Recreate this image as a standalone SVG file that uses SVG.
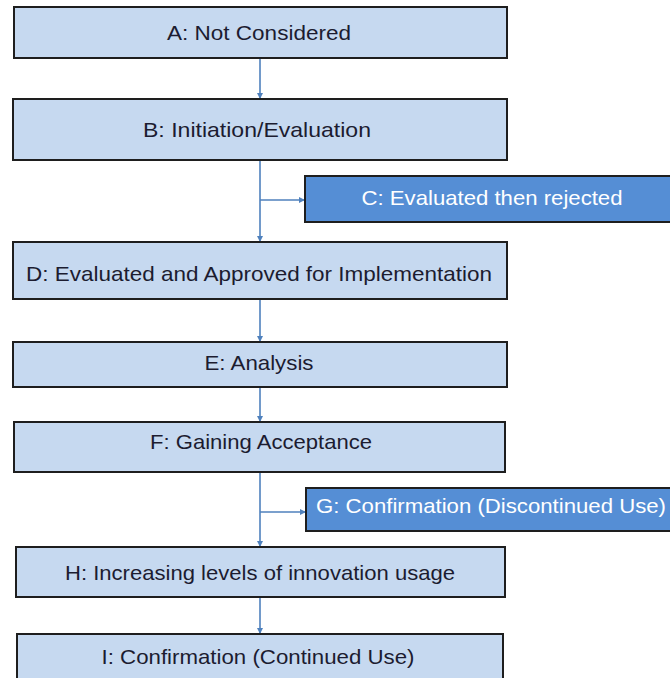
<svg xmlns="http://www.w3.org/2000/svg" width="670" height="678" viewBox="0 0 670 678">
  <style>
    .box { fill: #c6d9f0; stroke: #1e1e1e; stroke-width: 2; }
    .alt { fill: #558ed5; stroke: #1e1e1e; stroke-width: 2; }
    .lbl { font-family: "Liberation Sans", Arial, sans-serif; font-size: 21px; fill: #1c1c30; text-anchor: middle; }
    .lbl-w { font-family: "Liberation Sans", Arial, sans-serif; font-size: 21px; fill: #ffffff; text-anchor: middle; }
    .conn { fill: none; stroke: #4f81bd; stroke-width: 1.6; }
  </style>
  <defs>
    <marker id="arrow" markerWidth="6" markerHeight="6" refX="5" refY="3" orient="auto" markerUnits="userSpaceOnUse">
      <path d="M0,0 L6,3 L0,6 Z" fill="#4f81bd"/>
    </marker>
  </defs>
  <rect width="670" height="678" fill="#ffffff"/>

  <g id="connectors">
    <line class="conn" x1="260" y1="58" x2="260" y2="98" marker-end="url(#arrow)"/>
    <line class="conn" x1="260" y1="160" x2="260" y2="241" marker-end="url(#arrow)"/>
    <line class="conn" x1="260" y1="200" x2="304" y2="200" marker-end="url(#arrow)"/>
    <line class="conn" x1="260" y1="299" x2="260" y2="341" marker-end="url(#arrow)"/>
    <line class="conn" x1="260" y1="387" x2="260" y2="421" marker-end="url(#arrow)"/>
    <line class="conn" x1="260" y1="472" x2="260" y2="546" marker-end="url(#arrow)"/>
    <line class="conn" x1="260" y1="512" x2="305" y2="512" marker-end="url(#arrow)"/>
    <line class="conn" x1="260" y1="597" x2="260" y2="633" marker-end="url(#arrow)"/>
  </g>

  <g id="node-a">
    <rect class="box" x="14" y="7" width="493" height="51"/>
    <text class="lbl" x="259" y="40" textLength="184" lengthAdjust="spacingAndGlyphs">A: Not Considered</text>
  </g>
  <g id="node-b">
    <rect class="box" x="13" y="99" width="494" height="61"/>
    <text class="lbl" x="257" y="137" textLength="228" lengthAdjust="spacingAndGlyphs">B: Initiation/Evaluation</text>
  </g>
  <g id="node-c">
    <rect class="alt" x="305" y="176" width="372" height="46"/>
    <text class="lbl-w" x="492" y="205" textLength="261" lengthAdjust="spacingAndGlyphs">C: Evaluated then rejected</text>
  </g>
  <g id="node-d">
    <rect class="box" x="13" y="242" width="494" height="57"/>
    <text class="lbl" x="259" y="281" textLength="466" lengthAdjust="spacingAndGlyphs">D: Evaluated and Approved for Implementation</text>
  </g>
  <g id="node-e">
    <rect class="box" x="13" y="342" width="494" height="45"/>
    <text class="lbl" x="259" y="370" textLength="109" lengthAdjust="spacingAndGlyphs">E: Analysis</text>
  </g>
  <g id="node-f">
    <rect class="box" x="14" y="422" width="491" height="50"/>
    <text class="lbl" x="261" y="449" textLength="222" lengthAdjust="spacingAndGlyphs">F: Gaining Acceptance</text>
  </g>
  <g id="node-g">
    <rect class="alt" x="306" y="488" width="372" height="43"/>
    <text class="lbl-w" x="491" y="513" textLength="350" lengthAdjust="spacingAndGlyphs">G: Confirmation (Discontinued Use)</text>
  </g>
  <g id="node-h">
    <rect class="box" x="16" y="547" width="489" height="50"/>
    <text class="lbl" x="260" y="580" textLength="390" lengthAdjust="spacingAndGlyphs">H: Increasing levels of innovation usage</text>
  </g>
  <g id="node-i">
    <rect class="box" x="17" y="634" width="486" height="60"/>
    <text class="lbl" x="258" y="664" textLength="313" lengthAdjust="spacingAndGlyphs">I: Confirmation (Continued Use)</text>
  </g>
</svg>
